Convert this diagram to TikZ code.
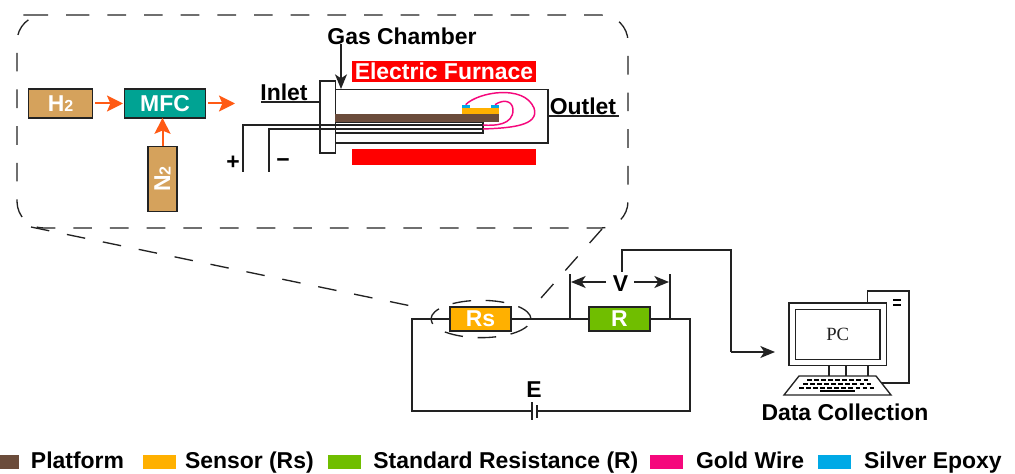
\documentclass[tikz,border=0pt]{standalone}
\usepackage{fontspec}
\setmainfont{Liberation Sans}
\usepackage{xcolor}
\usetikzlibrary{arrows.meta,positioning,shapes.geometric}
\definecolor{gasbrown}{HTML}{D5A25C}
\definecolor{mfcteal}{HTML}{00A393}
\definecolor{flowred}{HTML}{FF5A14}
\definecolor{furnacered}{HTML}{FF0000}
\definecolor{platbrown}{HTML}{6B4C3B}
\definecolor{sensoramber}{HTML}{FFB000}
\definecolor{resgreen}{HTML}{70BE00}
\definecolor{goldpink}{HTML}{F5087C}
\definecolor{epoxyblue}{HTML}{00A9E6}
\definecolor{linedark}{HTML}{222222}

\begin{document}
\begin{tikzpicture}[
    x=0.75pt, y=-0.75pt,
    every node/.style={inner sep=0pt, outer sep=0pt},
    lbl/.style={font=\fontsize{17.2}{19}\selectfont\bfseries, text=black},
    legtxt/.style={font=\fontsize{17.2}{19}\selectfont\bfseries, text=black, anchor=west, text height=13.5pt, text depth=3.5pt},
    wbox/.style={draw=linedark, line width=1.1pt, minimum height=21.5pt, font=\fontsize{17.2}{19}\selectfont\bfseries, text=white},
    swatch/.style={minimum width=24.5pt, minimum height=11pt},
    flow/.style={-{Stealth[length=12pt,width=12pt,inset=2.5pt]}, draw=flowred, line width=1.5pt},
    wire/.style={draw=linedark, line width=1pt},
    blackarrow/.style={-{Stealth[length=11pt,width=9pt,inset=3pt]}, draw=linedark, line width=1pt},
    zoomline/.style={draw=linedark, line width=1pt, dash pattern=on 14pt off 13.5pt}
]
\useasboundingbox (0,0) rectangle (1015,474);

% gas supply
\node[wbox, fill=gasbrown, minimum width=48pt] (hTwo) at (60.5,103.5) {H\raisebox{-0.5pt}{\fontsize{12}{12}\selectfont 2}};
\node[wbox, fill=mfcteal, minimum width=61pt] (mfc) at (165,103.5) {MFC};
\node[wbox, fill=gasbrown, minimum width=49pt, minimum height=21.5pt, rotate=90] (nTwo) at (162.5,179) {N\raisebox{-0.5pt}{\fontsize{12}{12}\selectfont 2}};
\coordinate (mfcout) at (235,103.5);
\draw[flow, shorten <=2pt, shorten >=1pt] (hTwo) -- (mfc);
\draw[flow, shorten <=2pt] (mfc) -- (mfcout);
\draw[flow] (nTwo.east) -- (mfc.south -| nTwo.east);

% chamber
\node[draw=linedark, line width=1pt, minimum width=165pt, minimum height=40pt, anchor=west] (tube) at (328,116.5) {};
\node[draw=linedark, fill=white, line width=1pt, minimum width=11.5pt, minimum height=54pt] (flange) at (327.5,117) {};
\node[fill=furnacered, minimum width=138pt, minimum height=15.5pt, font=\fontsize{17.2}{19}\selectfont\bfseries, text=white] (furnacetop) at (444,71.5) {Electric Furnace};
\node[fill=furnacered, minimum width=138pt, minimum height=12pt] (furnacebot) at (444,157) {};
\node[fill=platbrown, minimum width=123pt, minimum height=6pt, anchor=west] (platform) at (335,118) {};
\node[fill=sensoramber, minimum width=28pt, minimum height=4.5pt, anchor=south east] (sensor) at (499,114) {};
\node[fill=epoxyblue, minimum width=6pt, minimum height=2.5pt, anchor=south west] (epoxyl) at (sensor.north west) {};
\node[fill=epoxyblue, minimum width=6pt, minimum height=2.5pt, anchor=south east] (epoxyr) at (sensor.north east) {};

% leads
\coordinate (plus) at (243,172);
\coordinate (minus) at (269,172);
\coordinate (leadend) at (483,125);
\coordinate (leadmid) at (483,129);
\draw[wire] (plus) |- (leadend);
\draw[wire] (minus) |- (leadmid);
\draw[wire] (335,122.5) -- (483,122.5) -- (483,133) -- (335,133);
\draw[goldpink, line width=1.1pt] (epoxyl.north) .. controls (478,92) and (524,84) .. (534,108) .. controls (540,126) and (510,128) .. (leadmid);
\draw[goldpink, line width=1.1pt] (epoxyr.north) .. controls (505,98) and (513,102) .. (513,110) .. controls (513,125) and (495,126) .. (leadend);
\node[lbl] (plussign) at (233,163) {+};
\node[lbl] (minussign) at (283,163) {−};

% chamber labels
\node[lbl] (gaslabel) at (402,36) {Gas Chamber};
\coordinate (gastip) at (341,89);
\draw[blackarrow] (341,44) -- (gastip);
\node[lbl, anchor=south] (inlet) at (284,101) {Inlet};
\draw[wire] (261,102) -- (flange.west |- 0,102);
\node[lbl, anchor=south] (outlet) at (583,115) {Outlet};
\draw[wire] (tube.east |- 0,116) -- (619,116);

% callout
\draw[zoomline, rounded corners=20pt] (44,15) -- (628,15) -- (628,228) -- (17,228) -- (17,15) -- cycle;
\coordinate (callouta) at (31,227);
\coordinate (calloutb) at (602,229);

% circuit
\node[wbox, fill=sensoramber, minimum width=46pt, minimum height=18pt] (rs) at (480.5,319) {Rs};
\node[wbox, fill=resgreen, minimum width=46pt, minimum height=18pt] (res) at (619.5,319) {R};
\coordinate (tl) at (412,319);
\coordinate (tr) at (690,319);
\coordinate (bl) at (412,411);
\coordinate (br) at (690,411);
\coordinate (vl) at (570,319);
\coordinate (vr) at (670,319);
\coordinate (vlt) at (570,274);
\coordinate (vrt) at (670,274);
\coordinate (batl) at (532,411);
\coordinate (batr) at (537,411);
\draw[wire] (rs.west) -- (tl) -- (bl) -- (batl);
\draw[wire] (batr) -- (br) -- (tr) -- (res.east);
\draw[wire] (rs.east) -- (res.west);
\draw[wire] (532,402) -- (532,420);
\draw[wire] (537,405) -- (537,418);
\node[lbl] (elabel) at (534,390) {E};
\draw[wire] (vl) -- (vlt);
\draw[wire] (vr) -- (vrt);
\node[lbl] (vlabel) at (620.5,284) {V};
\draw[blackarrow] (606,282) -- (571,282);
\draw[blackarrow] (634,282) -- (669,282);
\node[ellipse, draw=linedark, line width=1pt, dash pattern=on 14pt off 11pt, minimum width=75pt, minimum height=28pt] (rsring) at (481,319) {};
\draw[zoomline] (callouta) -- (416,307);
\draw[zoomline] (calloutb) -- (541,298);

% pc
\node[draw=linedark, line width=1.1pt, minimum width=31pt, minimum height=69pt, anchor=north east] (tower) at (909,291) {};
\node[draw=linedark, fill=white, line width=1.1pt, minimum width=73pt, minimum height=47pt, anchor=north west] (monitor) at (789,303) {};
\node[draw=linedark, line width=1.1pt, minimum width=63.5pt, minimum height=37.5pt, font=\fontsize{14}{15}\selectfont, text=linedark] (screen) at (monitor.center) {\fontspec{Liberation Serif}PC};
\node[fill=black, minimum width=6pt, minimum height=1.8pt] (baru) at (897,300) {};
\node[fill=black, minimum width=6pt, minimum height=1.8pt] (bard) at (897,305) {};
\draw[wire] (829,366) -- (829,376);
\draw[wire] (846,366) -- (846,376);
\draw[wire] (868,366) -- (868,376);
\draw[wire, fill=white] (799,376) -- (876,376) -- (891,395) -- (784,395) -- cycle;
\foreach \yy/\xa/\xb in {380/807/868, 384/803/872, 388/799/875}
    \draw[black, line width=1.6pt, dash pattern=on 3.5pt off 1.8pt] (\xa,\yy) -- (\xb,\yy);
\draw[black, line width=1.4pt] (820,391) -- (855,391);
\node[lbl] (datalabel) at (845,412) {Data Collection};
\coordinate (pcin) at (775,352);
\draw[wire] (622,272) -- (622,250) -- (731,250) -- (731,352);
\draw[blackarrow] (731,352) -- (pcin);

% legend
\node[swatch, fill=platbrown, anchor=east] (swa) at (19,462) {};
\node[legtxt, right=9pt of swa] (lega) {Platform};
\node[swatch, fill=sensoramber, anchor=west] (swb) at (143,462) {};
\node[legtxt, right=7pt of swb] (legb) {Sensor (Rs)};
\node[swatch, fill=resgreen, anchor=west] (swc) at (328,462) {};
\node[legtxt, right=9.5pt of swc] (legc) {Standard Resistance (R)};
\node[swatch, fill=goldpink, anchor=west] (swd) at (650,462) {};
\node[legtxt, right=10pt of swd] (legd) {Gold Wire};
\node[swatch, fill=epoxyblue, anchor=west] (swe) at (818,462) {};
\node[legtxt, right=10pt of swe] (lege) {Silver Epoxy};
\end{tikzpicture}
\end{document}
